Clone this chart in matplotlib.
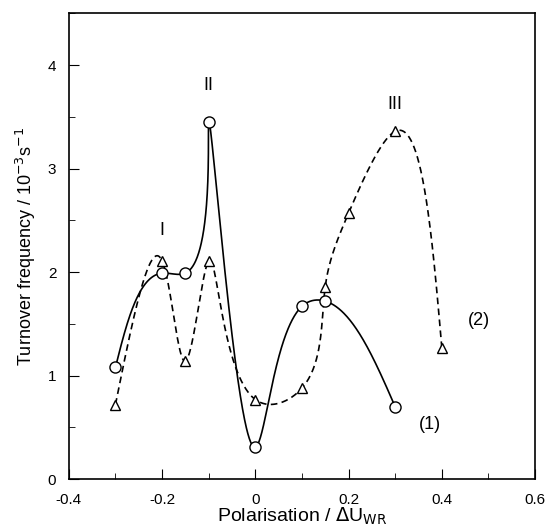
import numpy as np
import matplotlib
matplotlib.use("Agg")
import matplotlib.pyplot as plt
from matplotlib.ticker import MultipleLocator

plt.rcParams['font.family'] = ['Liberation Sans', 'DejaVu Sans']

# series (1): circles, solid curve
x1 = [-0.3, -0.2, -0.15, -0.1, 0.0, 0.1, 0.15, 0.3]
y1 = [1.08, 1.99, 1.99, 3.45, 0.31, 1.67, 1.72, 0.70]

# series (2): triangles, dashed curve
x2 = [-0.3, -0.2, -0.15, -0.1, 0.0, 0.1, 0.15, 0.2, 0.3, 0.4]
y2 = [0.72, 2.11, 1.14, 2.11, 0.77, 0.88, 1.86, 2.57, 3.36, 1.27]

# peak labels
peak_names = ['I', 'II', 'III']
peak_x = [-0.2, -0.1, 0.3]
peak_y = [2.40, 3.80, 3.62]

series_names = ['(1)', '(2)']
series_lx = [0.375, 0.48]
series_ly = [0.53, 1.53]


def natural_spline(u, f, uu):
    # natural cubic spline of f(u), evaluated at uu
    n = len(u)
    h = np.diff(u)
    A = np.zeros((n, n))
    r = np.zeros(n)
    A[0, 0] = A[-1, -1] = 1.0
    for i in range(1, n - 1):
        A[i, i - 1] = h[i - 1]
        A[i, i] = 2 * (h[i - 1] + h[i])
        A[i, i + 1] = h[i]
        r[i] = 6 * ((f[i + 1] - f[i]) / h[i] - (f[i] - f[i - 1]) / h[i - 1])
    M = np.linalg.solve(A, r)
    k = np.clip(np.searchsorted(u, uu, side='right') - 1, 0, n - 2)
    hk = h[k]
    a = u[k + 1] - uu
    b = uu - u[k]
    return (M[k] * a**3 / (6 * hk) + M[k + 1] * b**3 / (6 * hk)
            + (f[k] / hk - M[k] * hk / 6) * a + (f[k + 1] / hk - M[k + 1] * hk / 6) * b)


def spline_curve(ax, x, y, alpha=0.75, n=800):
    # parametric spline through the points, built in screen space
    pts = ax.transData.transform(np.column_stack([x, y]))
    steps = np.hypot(*np.diff(pts, axis=0).T) ** alpha
    u = np.concatenate([[0], np.cumsum(steps)])
    uu = np.linspace(0, u[-1], n)
    px = natural_spline(u, pts[:, 0], uu)
    py = natural_spline(u, pts[:, 1], uu)
    out = ax.transData.inverted().transform(np.column_stack([px, py]))
    return out[:, 0], out[:, 1]


fig = plt.figure(figsize=(5.46, 5.29), dpi=100)
ax = fig.add_axes([0.126, 0.094, 0.854, 0.881])
ax.set_xlim(-0.4, 0.6)
ax.set_ylim(0, 4.5)

cx, cy = spline_curve(ax, x1, y1)
ax.plot(cx, cy, '-', color='black', lw=1.2)
dx, dy = spline_curve(ax, x2, y2)
ax.plot(dx, dy, '--', color='black', lw=1.2, dashes=(4, 2.6))

ax.plot(x1, y1, 'o', ms=8, mfc='white', mec='black', mew=1.0, ls='none')
ax.plot(x2, y2, '^', ms=7, mfc='white', mec='black', mew=1.0, ls='none')

for name, px, py in zip(peak_names, peak_x, peak_y):
    ax.text(px, py, name, ha='center', va='center', fontsize=13)
for name, px, py in zip(series_names, series_lx, series_ly):
    ax.text(px, py, name, ha='center', va='center', fontsize=13)

ax.xaxis.set_major_locator(MultipleLocator(0.2))
ax.xaxis.set_minor_locator(MultipleLocator(0.1))
ax.yaxis.set_major_locator(MultipleLocator(1))
ax.yaxis.set_minor_locator(MultipleLocator(0.5))
ax.set_xticks([-0.4, -0.2, 0, 0.2, 0.4, 0.6])
ax.set_xticklabels(['-0.4', '-0.2', '0', '0.2', '0.4', '0.6'])
ax.tick_params(which='both', direction='in', top=False, right=False, labelsize=11)
ax.tick_params(which='major', length=7)
ax.tick_params(which='minor', length=4.3)
ax.tick_params(axis='x', which='major', pad=10)
ax.tick_params(axis='y', which='major', pad=9)
for s in ax.spines.values():
    s.set_linewidth(1.2)

ax.set_xlabel('Polarisation / $\\Delta$U$_{\\mathrm{WR}}$', fontsize=14, labelpad=-1)
ax.set_ylabel('Turnover frequency / 10$^{-3}$s$^{-1}$', fontsize=13, labelpad=7)

fig.savefig('out.png', dpi=100)
